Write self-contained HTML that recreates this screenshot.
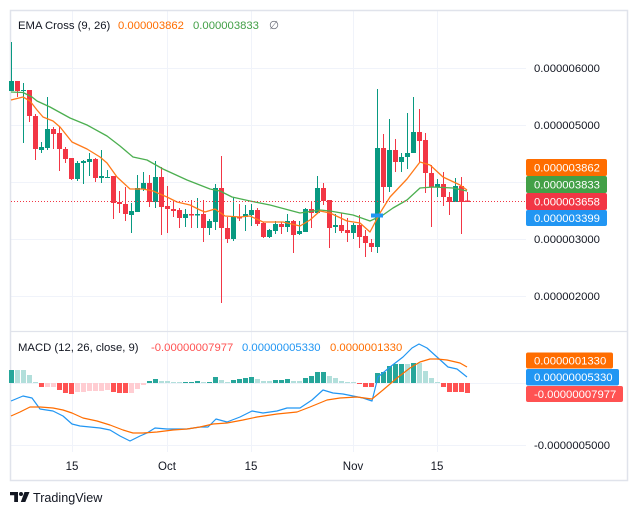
<!DOCTYPE html>
<html><head><meta charset="utf-8"><style>
html,body{margin:0;padding:0;background:#fff;}
svg{display:block;}
text{font-family:"Liberation Sans",sans-serif;}
</style></head><body>
<svg width="638" height="515" viewBox="0 0 638 515" xmlns="http://www.w3.org/2000/svg">
<rect x="0" y="0" width="638" height="515" fill="#fff"/>
<g stroke="#f0f3fa" stroke-width="1">
<line x1="72.5" y1="11" x2="72.5" y2="452"/>
<line x1="167.5" y1="11" x2="167.5" y2="452"/>
<line x1="251.5" y1="11" x2="251.5" y2="452"/>
<line x1="353.5" y1="11" x2="353.5" y2="452"/>
<line x1="437.5" y1="11" x2="437.5" y2="452"/>
<line x1="11" y1="68.5" x2="526" y2="68.5"/>
<line x1="11" y1="125.5" x2="526" y2="125.5"/>
<line x1="11" y1="182.5" x2="526" y2="182.5"/>
<line x1="11" y1="239.5" x2="526" y2="239.5"/>
<line x1="11" y1="296.5" x2="526" y2="296.5"/>
<line x1="11" y1="383.5" x2="526" y2="383.5"/>
<line x1="11" y1="445.5" x2="526" y2="445.5"/>
</g>
<rect x="10.5" y="10.5" width="617" height="470" fill="none" stroke="#e0e3eb" stroke-width="1.5"/>
<line x1="10" y1="331.5" x2="627" y2="331.5" stroke="#e0e3eb" stroke-width="1.2"/>
<g fill="#089981">
<rect x="11" y="42" width="1" height="49"/><rect x="9" y="81" width="5" height="10"/>
<rect x="23" y="83" width="1" height="60"/><rect x="21" y="90" width="5" height="1"/>
<rect x="41" y="142" width="1" height="11"/><rect x="39" y="147" width="5" height="3"/>
<rect x="47" y="97" width="1" height="53"/><rect x="45" y="129" width="5" height="19"/>
<rect x="77" y="161" width="1" height="20"/><rect x="75" y="163" width="5" height="16"/>
<rect x="83" y="160" width="1" height="24"/><rect x="81" y="161" width="5" height="2"/>
<rect x="89" y="153" width="1" height="23"/><rect x="87" y="159" width="5" height="3"/>
<rect x="101" y="150" width="1" height="33"/><rect x="99" y="176" width="5" height="2"/>
<rect x="107" y="170" width="1" height="8"/><rect x="105" y="177" width="5" height="1"/>
<rect x="131" y="203" width="1" height="30"/><rect x="129" y="211" width="5" height="4"/>
<rect x="137" y="175" width="1" height="37"/><rect x="135" y="188" width="5" height="24"/>
<rect x="143" y="172" width="1" height="19"/><rect x="141" y="183" width="5" height="6"/>
<rect x="155" y="161" width="1" height="47"/><rect x="153" y="177" width="5" height="25"/>
<rect x="185" y="209" width="1" height="18"/><rect x="183" y="214" width="5" height="4"/>
<rect x="197" y="198" width="1" height="30"/><rect x="195" y="214" width="5" height="1.5"/>
<rect x="209" y="219" width="1" height="16"/><rect x="207" y="221" width="5" height="7"/>
<rect x="215" y="184" width="1" height="46"/><rect x="213" y="188" width="5" height="34"/>
<rect x="233" y="197" width="1" height="44"/><rect x="231" y="217" width="5" height="22"/>
<rect x="245" y="205" width="1" height="26"/><rect x="243" y="214" width="5" height="3"/>
<rect x="251" y="204" width="1" height="22"/><rect x="249" y="210" width="5" height="5"/>
<rect x="269" y="229" width="1" height="9"/><rect x="267" y="230" width="5" height="7"/>
<rect x="275" y="221" width="1" height="13"/><rect x="273" y="224" width="5" height="7"/>
<rect x="287" y="214" width="1" height="18"/><rect x="285" y="221" width="5" height="6"/>
<rect x="299" y="221" width="1" height="14"/><rect x="297" y="231" width="5" height="3"/>
<rect x="305" y="208" width="1" height="24"/><rect x="303" y="209" width="5" height="23"/>
<rect x="317" y="176" width="1" height="38"/><rect x="315" y="188" width="5" height="25"/>
<rect x="335" y="214" width="1" height="19"/><rect x="333" y="225" width="5" height="2"/>
<rect x="353" y="223" width="1" height="16"/><rect x="351" y="225" width="5" height="8"/>
<rect x="377" y="89" width="1" height="164"/><rect x="375" y="148" width="5" height="99"/>
<rect x="389" y="119" width="1" height="73"/><rect x="387" y="150" width="5" height="37"/>
<rect x="401" y="153" width="1" height="19"/><rect x="399" y="157" width="5" height="5"/>
<rect x="407" y="113" width="1" height="56"/><rect x="405" y="153" width="5" height="4"/>
<rect x="413" y="97" width="1" height="56"/><rect x="411" y="132" width="5" height="21"/>
<rect x="437" y="179" width="1" height="18"/><rect x="435" y="184" width="5" height="3"/>
<rect x="455" y="178" width="1" height="24"/><rect x="453" y="186" width="5" height="16"/>
</g>
<g fill="#f23645">
<rect x="17" y="81" width="1" height="16"/><rect x="15" y="81" width="5" height="10"/>
<rect x="29" y="90" width="1" height="32"/><rect x="27" y="90" width="5" height="26"/>
<rect x="35" y="114" width="1" height="46"/><rect x="33" y="116" width="5" height="33"/>
<rect x="53" y="127" width="1" height="22"/><rect x="51" y="129" width="5" height="5"/>
<rect x="59" y="127" width="1" height="44"/><rect x="57" y="133" width="5" height="16"/>
<rect x="65" y="147" width="1" height="16"/><rect x="63" y="149" width="5" height="10"/>
<rect x="71" y="158" width="1" height="22"/><rect x="69" y="158" width="5" height="21"/>
<rect x="95" y="158" width="1" height="24"/><rect x="93" y="159" width="5" height="19"/>
<rect x="113" y="176" width="1" height="43"/><rect x="111" y="176" width="5" height="27"/>
<rect x="119" y="191" width="1" height="22"/><rect x="117" y="202" width="5" height="2"/>
<rect x="125" y="187" width="1" height="34"/><rect x="123" y="204" width="5" height="10"/>
<rect x="149" y="175" width="1" height="32"/><rect x="147" y="183" width="5" height="19"/>
<rect x="161" y="167" width="1" height="68"/><rect x="159" y="177" width="5" height="30"/>
<rect x="167" y="186" width="1" height="47"/><rect x="165" y="206" width="5" height="3"/>
<rect x="173" y="202" width="1" height="15"/><rect x="171" y="209" width="5" height="2"/>
<rect x="179" y="208" width="1" height="20"/><rect x="177" y="210" width="5" height="8"/>
<rect x="191" y="200" width="1" height="28"/><rect x="189" y="214" width="5" height="1.5"/>
<rect x="203" y="200" width="1" height="42"/><rect x="201" y="214" width="5" height="14"/>
<rect x="221" y="156" width="1" height="147"/><rect x="219" y="188" width="5" height="40"/>
<rect x="227" y="217" width="1" height="26"/><rect x="225" y="228" width="5" height="11"/>
<rect x="239" y="204" width="1" height="17"/><rect x="237" y="217" width="5" height="1.5"/>
<rect x="257" y="208" width="1" height="18"/><rect x="255" y="210" width="5" height="14"/>
<rect x="263" y="222" width="1" height="16"/><rect x="261" y="223" width="5" height="14"/>
<rect x="281" y="222" width="1" height="12"/><rect x="279" y="224" width="5" height="3"/>
<rect x="293" y="220" width="1" height="33"/><rect x="291" y="221" width="5" height="14"/>
<rect x="311" y="201" width="1" height="27"/><rect x="309" y="209" width="5" height="4"/>
<rect x="323" y="183" width="1" height="22"/><rect x="321" y="188" width="5" height="13"/>
<rect x="329" y="200" width="1" height="48"/><rect x="327" y="200" width="5" height="28"/>
<rect x="341" y="213" width="1" height="20"/><rect x="339" y="225" width="5" height="6"/>
<rect x="347" y="218" width="1" height="24"/><rect x="345" y="230" width="5" height="3"/>
<rect x="359" y="215" width="1" height="33"/><rect x="357" y="225" width="5" height="12"/>
<rect x="365" y="230" width="1" height="27"/><rect x="363" y="236" width="5" height="7"/>
<rect x="371" y="239" width="1" height="13"/><rect x="369" y="243" width="5" height="4"/>
<rect x="383" y="134" width="1" height="69"/><rect x="381" y="148" width="5" height="39"/>
<rect x="395" y="139" width="1" height="33"/><rect x="393" y="150" width="5" height="12"/>
<rect x="419" y="109" width="1" height="54"/><rect x="417" y="132" width="5" height="9"/>
<rect x="425" y="133" width="1" height="60"/><rect x="423" y="140" width="5" height="33"/>
<rect x="431" y="165" width="1" height="62"/><rect x="429" y="173" width="5" height="14"/>
<rect x="443" y="172" width="1" height="34"/><rect x="441" y="184" width="5" height="13"/>
<rect x="449" y="192" width="1" height="23"/><rect x="447" y="197" width="5" height="5"/>
<rect x="461" y="177" width="1" height="57"/><rect x="459" y="186" width="5" height="16"/>
<rect x="467" y="192" width="1" height="10"/><rect x="465" y="200.5" width="5" height="1.5"/>
</g>
<polyline fill="none" stroke="#4caf50" stroke-width="1.3" stroke-linejoin="round" points="11,92 23,92.5 32,97 37,101 50,107 70,118 87,125 107,136 120,146 133,157 147,160 163,169 187,180 210,189 220,191 232,197 250,201 270,205 300,213 320,210 330,211 353,215 370,221 383,215 393,208 407,200 420,188 433,187 453,188 467,191"/>
<polyline fill="none" stroke="#ff7a1a" stroke-width="1.3" stroke-linejoin="round" points="11,100 23,97 30,101 37,110 43,117 53,121 60,127 72,142 87,149 100,157 107,163 117,177 130,189 143,189 153,191 167,197 177,202 190,205 200,210 205,212 215,209 225,216 240,217 250,216 263,222 283,222 300,226 310,220 320,211 330,213 347,221 360,223 370,232 380,213 390,197 407,179 420,162 430,165 443,177 460,185 467,190"/>
<rect x="371" y="213.5" width="12" height="4" fill="#2196f3"/>
<line x1="11" y1="201.5" x2="526" y2="201.5" stroke="#f23645" stroke-width="1" stroke-dasharray="1,2"/>
<g fill="#26a69a">
<rect x="9" y="370" width="5" height="13"/><rect x="147" y="381" width="5" height="2"/><rect x="153" y="379" width="5" height="4"/>
<rect x="183" y="382" width="5" height="1"/><rect x="189" y="382" width="5" height="1"/><rect x="195" y="381" width="5" height="2"/>
<rect x="207" y="382" width="5" height="1"/><rect x="213" y="377" width="5" height="6"/><rect x="231" y="380" width="5" height="3"/>
<rect x="237" y="379" width="5" height="4"/><rect x="243" y="378" width="5" height="5"/><rect x="249" y="377" width="5" height="6"/>
<rect x="273" y="380" width="5" height="3"/><rect x="279" y="380" width="5" height="3"/><rect x="285" y="379" width="5" height="4"/>
<rect x="303" y="378" width="5" height="5"/><rect x="309" y="376" width="5" height="7"/><rect x="315" y="372" width="5" height="11"/>
<rect x="321" y="372" width="5" height="11"/><rect x="375" y="373" width="5" height="10"/><rect x="381" y="372" width="5" height="11"/>
<rect x="387" y="366" width="5" height="17"/><rect x="393" y="364" width="5" height="19"/><rect x="399" y="364" width="5" height="19"/>
<rect x="411" y="363" width="5" height="20"/>
</g>
<g fill="#b2dfdb">
<rect x="15" y="370" width="5" height="13"/><rect x="21" y="370" width="5" height="13"/><rect x="27" y="375" width="5" height="8"/>
<rect x="33" y="382" width="5" height="1"/><rect x="159" y="381" width="5" height="2"/><rect x="165" y="381" width="5" height="2"/>
<rect x="171" y="382" width="5" height="1"/><rect x="177" y="382" width="5" height="1"/><rect x="201" y="382" width="5" height="1"/>
<rect x="219" y="380" width="5" height="3"/><rect x="225" y="382" width="5" height="1"/><rect x="255" y="379" width="5" height="4"/>
<rect x="261" y="381" width="5" height="2"/><rect x="267" y="381" width="5" height="2"/><rect x="291" y="381" width="5" height="2"/>
<rect x="297" y="381" width="5" height="2"/><rect x="327" y="376" width="5" height="7"/><rect x="333" y="378" width="5" height="5"/>
<rect x="339" y="381" width="5" height="2"/><rect x="345" y="382" width="5" height="1"/><rect x="351" y="382" width="5" height="1"/>
<rect x="405" y="364" width="5" height="19"/><rect x="417" y="363" width="5" height="20"/><rect x="423" y="371" width="5" height="12"/>
<rect x="429" y="378" width="5" height="5"/><rect x="435" y="382" width="5" height="1"/>
</g>
<g fill="#ff5252">
<rect x="39" y="383" width="5" height="4"/><rect x="57" y="383" width="5" height="7"/><rect x="63" y="383" width="5" height="10"/>
<rect x="69" y="383" width="5" height="11"/><rect x="111" y="383" width="5" height="9"/><rect x="117" y="383" width="5" height="10"/>
<rect x="123" y="383" width="5" height="10"/><rect x="357" y="383" width="5" height="1"/><rect x="363" y="383" width="5" height="4"/>
<rect x="369" y="383" width="5" height="4"/><rect x="441" y="383" width="5" height="4"/><rect x="447" y="383" width="5" height="9"/>
<rect x="453" y="383" width="5" height="9"/><rect x="459" y="383" width="5" height="9"/><rect x="465" y="383" width="5" height="10"/>
</g>
<g fill="#ffcdd2">
<rect x="45" y="383" width="5" height="4"/><rect x="51" y="383" width="5" height="4"/><rect x="75" y="383" width="5" height="9"/>
<rect x="81" y="383" width="5" height="9"/><rect x="87" y="383" width="5" height="8"/><rect x="93" y="383" width="5" height="8"/>
<rect x="99" y="383" width="5" height="8"/><rect x="105" y="383" width="5" height="7"/><rect x="129" y="383" width="5" height="10"/>
<rect x="135" y="383" width="5" height="6"/><rect x="141" y="383" width="5" height="2"/>
</g>
<polyline fill="none" stroke="#2196f3" stroke-width="1.2" stroke-linejoin="round" points="11,401 23,396 32,398 40,409 53,411 63,416 72,424 80,426 90,427 100,428 110,430 120,436 130,441 140,436 147,433 155,428 167,429 187,429 200,427 208,427 216,419 227,422 240,417 252,411 263,413 277,411 287,408 300,408 312,400 323,390 333,393 343,394 353,396 363,398 372,401 378,377 390,367 403,357 412,348 419,344 427,348 437,357 448,367 457,369 467,377"/>
<polyline fill="none" stroke="#ff6d00" stroke-width="1.2" stroke-linejoin="round" points="11,416 20,412 30,407 40,407 53,408 63,410 72,413 83,418 97,421 110,425 123,430 133,433 143,433 157,432 173,430 187,429 200,427 213,424 227,423 243,420 257,417 277,414 297,412 310,407 327,400 340,398 357,397 372,399 383,390 397,378 410,368 420,362 430,359 437,359 447,360 460,363 467,367"/>
<g font-size="11.3">
<text x="18" y="29" fill="#131722">EMA Cross (9, 26)</text>
<text x="118" y="29" fill="#ff6d00">0.000003862</text>
<text x="193" y="29" fill="#43a047">0.000003833</text>
<text x="269" y="29" fill="#6a6d78">∅</text>
<text x="18" y="351" fill="#131722">MACD (12, 26, close, 9)</text>
<text x="151" y="351" fill="#ff5252">-0.00000007977</text>
<text x="242" y="351" fill="#2196f3">0.00000005330</text>
<text x="330" y="351" fill="#ff6d00">0.0000001330</text>
</g>
<g font-size="11.3" fill="#131722">
<text x="534" y="72">0.000006000</text>
<text x="534" y="129">0.000005000</text>
<text x="534" y="243">0.000003000</text>
<text x="534" y="300">0.000002000</text>
<text x="534" y="449">-0.0000005000</text>
</g>
<rect x="526" y="159" width="81" height="17" rx="2" fill="#ff6d00"/>
<rect x="526" y="176" width="81" height="17" rx="2" fill="#43a047"/>
<rect x="526" y="193" width="81" height="17" rx="2" fill="#f23645"/>
<rect x="526" y="210" width="81" height="16" rx="2" fill="#2196f3"/>
<rect x="526" y="352.5" width="87" height="16" rx="2" fill="#ff6d00"/>
<rect x="526" y="369" width="93" height="16.5" rx="2" fill="#2196f3"/>
<rect x="526" y="386" width="97" height="16" rx="2" fill="#ff5252"/>
<g font-size="11.3" fill="#ffffff">
<text x="534" y="171.5">0.000003862</text>
<text x="534" y="188.5">0.000003833</text>
<text x="534" y="205.5">0.000003658</text>
<text x="534" y="222">0.000003399</text>
<text x="534" y="364.5">0.0000001330</text>
<text x="534" y="381">0.00000005330</text>
<text x="534" y="398">-0.00000007977</text>
</g>
<g font-size="11.5" fill="#131722" text-anchor="middle">
<text x="72" y="470">15</text>
<text x="167" y="470">Oct</text>
<text x="251" y="470">15</text>
<text x="353" y="470">Nov</text>
<text x="437" y="470">15</text>
</g>
<g fill="#131722">
<path d="M10 492 H18 V502 H14.2 V495.3 H10 Z"/>
<circle cx="21" cy="494" r="2"/>
<path d="M24.5 492 H29.5 L25.3 502 H20.8 Z"/>
</g>
<text x="33" y="502" font-size="12.6" fill="#131722">TradingView</text>
</svg>
</body></html>
